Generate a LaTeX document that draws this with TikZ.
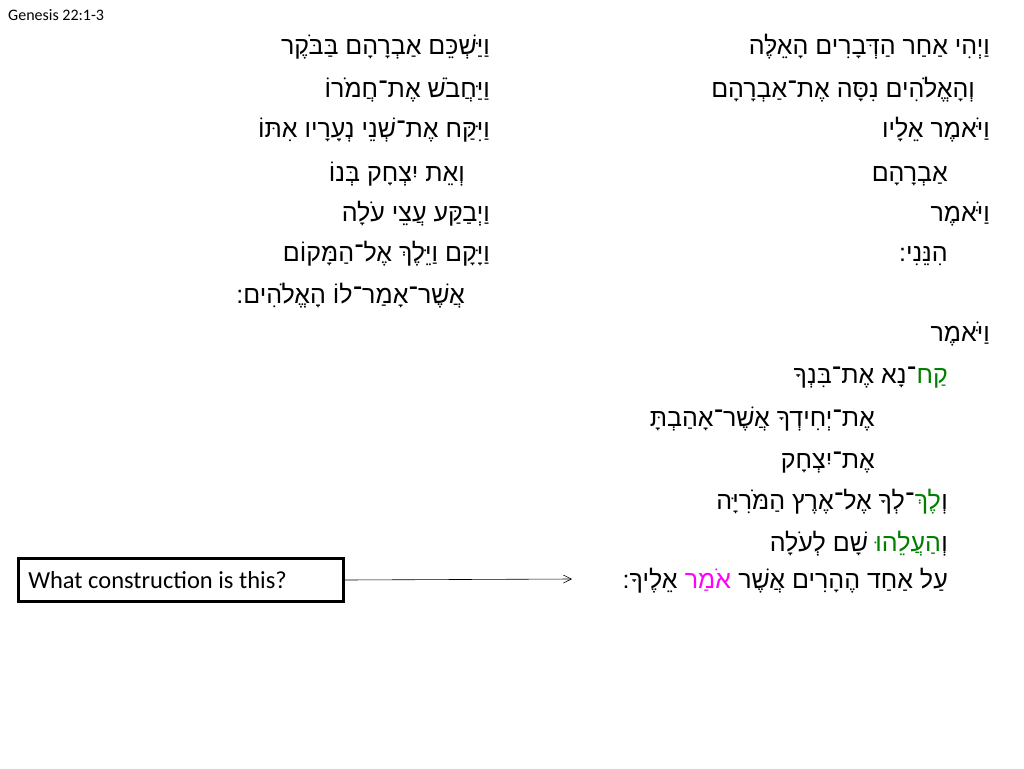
\documentclass[tikz,border=0pt]{standalone}
\usepackage{fontspec}
\setmainfont{Carlito}
\newfontfamily\hebfont[Script=Hebrew]{Liberation Sans}
\TeXXeTstate=1
\usetikzlibrary{arrows.meta}
\definecolor{hgreen}{RGB}{0,128,0}
\definecolor{hmag}{RGB}{255,0,255}
\tikzset{heb/.style={anchor=east,inner sep=0pt,text height=19pt,text depth=6pt,font=\hebfont\fontsize{25}{30}\selectfont}}
\newcommand{\hb}[1]{\beginR #1\endR}
\begin{document}
\begin{tikzpicture}[x=1pt,y=-1pt]
\useasboundingbox (0,0) rectangle (1024,768);
\node[anchor=west,inner sep=0pt,font=\fontsize{16}{18}\selectfont] (title) at (8,15) {Genesis 22:1-3};
% right column
\node[heb] (r1) at (990,48) {\hb{וַיְהִי אַחַר הַדְּבָרִים הָאֵלֶּה}};
\node[heb] (r2) at (975,91) {\hb{וְהָאֱלֹהִים נִסָּה אֶת־אַבְרָהָם}};
\node[heb] (r3) at (990,131) {\hb{וַיֹּאמֶר אֵלָיו}};
\node[heb] (r4) at (948,175) {\hb{אַבְרָהָם}};
\node[heb] (r5) at (990,215) {\hb{וַיֹּאמֶר}};
\node[heb] (r6) at (948,255) {\hb{הִנֵּנִי:}};
\node[heb] (r7) at (990,335) {\hb{וַיֹּאמֶר}};
\node[heb,text=hgreen] (r8a) at (948,377) {\hb{קַח}};
\node[heb] (r8b) at (r8a.east -| r8a.west) {\hb{־נָא אֶת־בִּנְךָ}};
\node[heb] (r9) at (875,420) {\hb{אֶת־יְחִידְךָ אֲשֶׁר־אָהַבְתָּ}};
\node[heb] (r10) at (875,462) {\hb{אֶת־יִצְחָק}};
\node[heb] (r11a) at (948,503) {\hb{וְ}};
\node[heb,text=hgreen] (r11b) at (r11a.east -| r11a.west) {\hb{לֶךְ}};
\node[heb] (r11c) at (r11b.east -| r11b.west) {\hb{־לְךָ אֶל־אֶרֶץ הַמֹּרִיָּה}};
\node[heb] (r12a) at (948,545) {\hb{וְ}};
\node[heb,text=hgreen] (r12b) at (r12a.east -| r12a.west) {\hb{הַעֲלֵהוּ}};
\node[heb] (r12c) at (r12b.east -| r12b.west) {\hb{\ שָׁם לְעֹלָה}};
\node[heb] (r13a) at (948,582) {\hb{עַל אַחַד הֶהָרִים אֲשֶׁר\ }};
\node[heb,text=hmag] (r13b) at (r13a.east -| r13a.west) {\hb{אֹמַר}};
\node[heb] (r13c) at (r13b.east -| r13b.west) {\hb{\ אֵלֶיךָ:}};
% left column
\node[heb] (l1) at (490,48) {\hb{וַיַּשְׁכֵּם אַבְרָהָם בַּבֹּקֶר}};
\node[heb] (l2) at (490,91) {\hb{וַיַּחֲבֹשׁ אֶת־חֲמֹרוֹ}};
\node[heb] (l3) at (490,131) {\hb{וַיִּקַּח אֶת־שְׁנֵי נְעָרָיו אִתּוֹ}};
\node[heb] (l4) at (465,175) {\hb{וְאֵת יִצְחָק בְּנוֹ}};
\node[heb] (l5) at (490,215) {\hb{וַיְבַקַּע עֲצֵי עֹלָה}};
\node[heb] (l6) at (490,255) {\hb{וַיָּקָם וַיֵּלֶךְ אֶל־הַמָּקוֹם}};
\node[heb] (l7) at (465,297) {\hb{אֲשֶׁר־אָמַר־לוֹ הָאֱלֹהִים:}};
% question box
\node[draw=black,line width=2.5pt,anchor=west,minimum height=43pt,inner xsep=10pt,font=\fontsize{24.5}{28}\selectfont] (q) at (17,580) {\makebox[305pt][l]{What construction is this?}};
\coordinate (tip) at (572,579);
\draw[-{Straight Barb[length=8pt,width=8pt]},line width=0.6pt] (q.east) -- (tip);
\end{tikzpicture}
\end{document}
